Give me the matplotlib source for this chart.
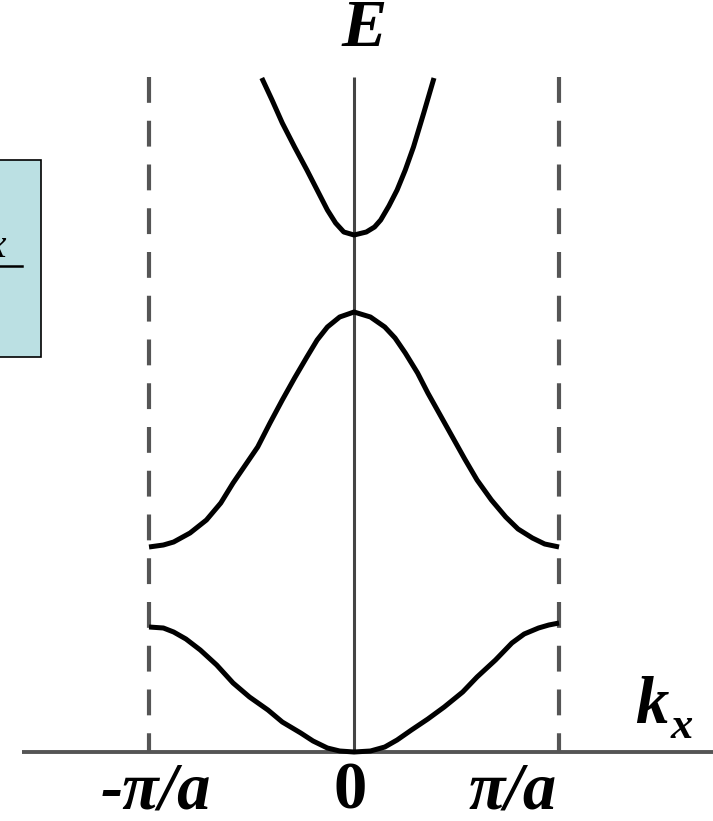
import matplotlib.pyplot as plt
from matplotlib.patches import Rectangle

# Band energies E(k) in the reduced zone, k in units of pi/a
band1_k = [-1.0, -0.93, -0.88, -0.82, -0.75, -0.67, -0.59, -0.51, -0.42, -0.35,
           -0.26, -0.20, -0.13, -0.07, 0.0,
           0.08, 0.15, 0.21, 0.28, 0.36, 0.44, 0.53, 0.60, 0.69, 0.77,
           0.83, 0.90, 0.95, 1.0]
band1_E = [1.25, 1.24, 1.20, 1.13, 1.02, 0.87, 0.69, 0.55, 0.42, 0.30,
           0.19, 0.11, 0.04, 0.01, 0.0,
           0.01, 0.05, 0.12, 0.22, 0.33, 0.45, 0.60, 0.75, 0.92, 1.09,
           1.18, 1.24, 1.27, 1.29]

band2_k = [-1.0, -0.93, -0.88, -0.80, -0.72, -0.65, -0.59, -0.53, -0.47, -0.41,
           -0.35, -0.29, -0.23, -0.18, -0.13, -0.07, 0.0,
           0.08, 0.15, 0.20, 0.25, 0.31, 0.36, 0.42, 0.48, 0.54, 0.60,
           0.67, 0.74, 0.80, 0.87, 0.93, 1.0]
band2_E = [2.05, 2.07, 2.10, 2.19, 2.32, 2.49, 2.69, 2.87, 3.05, 3.29,
           3.52, 3.74, 3.95, 4.12, 4.25, 4.35, 4.40,
           4.35, 4.25, 4.14, 3.99, 3.79, 3.59, 3.37, 3.15, 2.93, 2.72,
           2.52, 2.35, 2.23, 2.14, 2.08, 2.05]

band3_k = [-0.45, -0.40, -0.35, -0.29, -0.23, -0.18, -0.13, -0.09, -0.05, 0.0,
           0.06, 0.10, 0.13, 0.17, 0.21, 0.25, 0.29, 0.34, 0.39]
band3_E = [6.74, 6.52, 6.29, 6.05, 5.82, 5.62, 5.42, 5.29, 5.20, 5.17,
           5.20, 5.25, 5.32, 5.46, 5.62, 5.82, 6.05, 6.39, 6.74]

zone_edges = [-1.0, 1.0]
tick_labels = ["-π/a", "0", "π/a"]

E_TOP = 6.75
SERIF_BI = dict(family="Liberation Serif", weight="bold", style="italic")

fig = plt.figure(figsize=(7.13, 8.21), dpi=100)
ax = fig.add_axes([0, 0, 1, 1])
ax.set_xlim(-1.727, 1.751)
ax.set_ylim(-0.69, 7.52)
ax.axis("off")

# axes of the diagram
ax.plot([-1.62, 1.751], [0, 0], color="#555555", lw=2.8, solid_capstyle="butt", zorder=2)
ax.plot([0, 0], [0, E_TOP], color="#444444", lw=2.2, solid_capstyle="butt", zorder=2)

# Brillouin zone boundaries
for kz in zone_edges:
    ax.plot([kz, kz], [E_TOP, 0], color="#555555", lw=3.0,
            linestyle=(0, (6.2, 4.3)), dash_capstyle="butt", zorder=2)

# energy bands
for k, E in [(band1_k, band1_E), (band2_k, band2_E), (band3_k, band3_E)]:
    ax.plot(k, E, color="black", lw=3.6, solid_joinstyle="round",
            solid_capstyle="butt", zorder=3)

# side panel, cut off at the left edge
ax.add_patch(Rectangle((-1.76, 3.95), 0.233, 1.97, facecolor="#bbe0e3",
                       edgecolor="black", lw=1.2, zorder=1))
ax.text(-1.70, 4.95, "x", fontsize=30, ha="right", va="baseline",
        family="Liberation Serif", style="italic", zorder=4)
ax.plot([-1.76, -1.62], [4.86, 4.86], color="black", lw=1.8, zorder=4)

# labels
ax.text(0.05, 7.22, "E", fontsize=49, ha="center", va="center", **SERIF_BI)
ax.text(1.45, 0.29, "k", fontsize=48, ha="center", va="baseline", **SERIF_BI)
ax.text(1.60, 0.14, "x", fontsize=32, ha="center", va="baseline", **SERIF_BI)

for pos, lab in zip([-0.965, -0.02, 0.775], tick_labels):
    weight_style = SERIF_BI if lab != "0" else dict(family="Liberation Serif", weight="bold")
    ax.text(pos, -0.56, lab, fontsize=48, ha="center", va="baseline", **weight_style)

fig.savefig("out.png", dpi=100)
